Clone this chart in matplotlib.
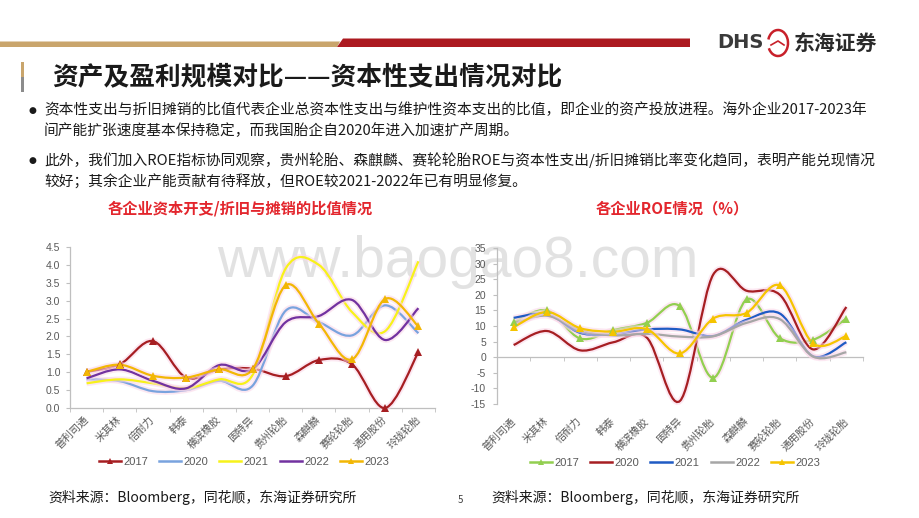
import numpy as np
import matplotlib
matplotlib.use("Agg")
import matplotlib.pyplot as plt
from matplotlib.path import Path
from matplotlib.patches import PathPatch, Polygon, Rectangle, Arc
from matplotlib.lines import Line2D
import matplotlib.patheffects as pe

plt.rcParams['font.family'] = ['Noto Sans CJK SC', 'DejaVu Sans']

# ---------------- data ----------------
categories = ['普利司通', '米其林', '倍耐力', '韩泰', '横滨橡胶', '固特异',
              '贵州轮胎', '森麒麟', '赛轮轮胎', '通用股份', '玲珑轮胎']
years = ['2017', '2020', '2021', '2022', '2023']

# capex / (depreciation + amortization)
capex_2017 = [1.01, 1.22, 1.87, 0.85, 1.08, 1.10, 0.89, 1.34, 1.22, 0.00, 1.56]
capex_2020 = [0.80, 0.75, 0.47, 0.50, 0.76, 0.62, 2.72, 2.40, 2.03, 2.87, 2.09]
capex_2021 = [0.69, 0.80, 0.69, 0.55, 0.80, 0.92, 3.90, 4.00, 2.68, 2.15, 4.10]
capex_2022 = [0.83, 1.08, 0.76, 0.55, 1.20, 1.08, 2.40, 2.57, 3.02, 1.90, 2.79]
capex_2023 = [1.01, 1.21, 0.90, 0.85, 1.08, 1.08, 3.43, 2.36, 1.36, 3.05, 2.28]

# ROE (%)
roe_2017 = [11.2, 15.0, 6.0, 8.7, 11.0, 16.3, -6.6, 18.5, 6.1, 5.6, 12.4]
roe_2020 = [3.9, 8.4, 2.2, 4.8, 6.3, -14.0, 26.5, 21.3, 20.0, 2.5, 16.1]
roe_2021 = [12.6, 13.8, 7.8, 7.4, 8.9, 8.9, 6.8, 12.0, 14.0, 0.3, 4.8]
roe_2022 = [10.8, 13.3, 8.6, 7.0, 7.5, 6.6, 6.7, 11.0, 12.2, 0.2, 1.6]
roe_2023 = [9.6, 14.5, 9.3, 8.2, 9.0, 1.2, 12.4, 14.2, 23.0, 4.4, 6.8]

capex_yticks = [0.0, 0.5, 1.0, 1.5, 2.0, 2.5, 3.0, 3.5, 4.0, 4.5]
roe_yticks = [-15, -10, -5, 0, 5, 10, 15, 20, 25, 30, 35]

left_series = [capex_2017, capex_2020, capex_2021, capex_2022, capex_2023]
left_colors = ['#a61e22', '#79a3de', '#f7f21a', '#7232a0', '#f2b705']
left_markers = ['^', None, None, None, '^']

right_series = [roe_2017, roe_2020, roe_2021, roe_2022, roe_2023]
right_colors = ['#92cf50', '#a61e22', '#1f5bc4', '#a6a6a6', '#f5c400']
right_markers = ['^', None, None, None, '^']

# ---------------- helpers ----------------
def smooth_path(xs, ys, k=1.0 / 6.0):
    n = len(xs)
    verts = [(xs[0], ys[0])]
    codes = [Path.MOVETO]
    for i in range(n - 1):
        p0 = (xs[i], ys[i])
        p1 = (xs[i + 1], ys[i + 1])
        pm = (xs[i - 1], ys[i - 1]) if i > 0 else p0
        pp = (xs[i + 2], ys[i + 2]) if i + 2 < n else p1
        c1 = (p0[0] + (p1[0] - pm[0]) * k, p0[1] + (p1[1] - pm[1]) * k)
        c2 = (p1[0] - (pp[0] - p0[0]) * k, p1[1] - (pp[1] - p0[1]) * k)
        verts += [c1, c2, p1]
        codes += [Path.CURVE4] * 3
    return Path(verts, codes)

glow = [pe.Stroke(linewidth=4.2, foreground='#fbd6e8', alpha=0.55), pe.Normal()]
TICKC = '#595959'
AXC = '#bfbfbf'
W, H = 920, 518

def draw_series(ax, series, colors, markers):
    x = np.arange(len(categories))
    for vals, col, mk in zip(series, colors, markers):
        patch = PathPatch(smooth_path(x, vals), fill=False, edgecolor=col,
                          lw=1.6, transform=ax.transData, clip_on=False,
                          path_effects=glow, zorder=3)
        ax.add_patch(patch)
        if mk:
            ax.plot(x, vals, linestyle='none', marker=mk, markersize=5.5,
                    color=col, markeredgewidth=0, zorder=4, clip_on=False)

def legend_handles(colors, markers):
    hs = []
    for col, mk in zip(colors, markers):
        hs.append(Line2D([], [], color=col, lw=1.8, marker=mk if mk else None,
                         markersize=5, markeredgewidth=0))
    return hs

# ---------------- figure ----------------
fig = plt.figure(figsize=(9.2, 5.18), dpi=100)
fig.patch.set_facecolor('white')

bg = fig.add_axes([0, 0, 1, 1], zorder=0)
bg.set_xlim(0, W)
bg.set_ylim(H, 0)
bg.axis('off')

# watermark
bg.text(458, 262, 'www.baogao8.com', fontsize=41, color='#d9d9d9', alpha=0.75,
        ha='center', va='center', family=['Liberation Sans', 'DejaVu Sans'], zorder=0)

# header bars
bg.add_patch(Polygon([(0, 41.5), (340, 41.5), (337, 47), (0, 47)], closed=True,
                     facecolor='#c9a56c', edgecolor='none'))
bg.add_patch(Polygon([(337, 47), (343, 38.5), (690, 38.5), (690, 47)], closed=True,
                     facecolor='#ac1a20', edgecolor='none'))
# logo
bg.text(717, 43, 'DHS', fontsize=14, fontweight='bold', color='#3a3a3a',
        ha='left', va='center', family=['DejaVu Sans'])
bg.add_patch(Arc((778, 43), 20, 26, theta1=200, theta2=150, color='#c8202a', lw=1.8))
bg.plot([771, 778, 784], [45, 41, 45], color='#c8202a', lw=1.2)
bg.text(794, 43, '东海证券', fontsize=15, fontweight='bold', color='#2a2a2a',
        ha='left', va='center')

# title bar + title
bg.add_patch(Rectangle((21, 62), 3, 15, facecolor='#c9a56c', edgecolor='none'))
bg.add_patch(Rectangle((21, 77), 3, 15, facecolor='#8c8c8c', edgecolor='none'))
bg.text(52, 77, '资产及盈利规模对比——资本性支出情况对比', fontsize=18.5,
        fontweight='bold', color='#1a1a1a', ha='left', va='center')

# bullet text
lines = [
    (110, True, '资本性支出与折旧摊销的比值代表企业总资本性支出与维护性资本支出的比值，即企业的资产投放进程。海外企业2017-2023年'),
    (131, False, '间产能扩张速度基本保持稳定，而我国胎企自2020年进入加速扩产周期。'),
    (160, True, '此外，我们加入ROE指标协同观察，贵州轮胎、森麒麟、赛轮轮胎ROE与资本性支出/折旧摊销比率变化趋同，表明产能兑现情况'),
    (182, False, '较好；其余企业产能贡献有待释放，但ROE较2021-2022年已有明显修复。'),
]
for yy, bullet, txt in lines:
    if bullet:
        bg.text(32, yy, '●', fontsize=6.5, color='#1a1a1a', ha='center', va='center',
                family=['DejaVu Sans'])
    bg.text(44, yy, txt, fontsize=10.6, color='#1a1a1a', ha='left', va='center')

# chart titles
bg.text(240, 208, '各企业资本开支/折旧与摊销的比值情况', fontsize=11, fontweight='bold',
        color='#e3262d', ha='center', va='center')
bg.text(672, 208, '各企业ROE情况（%）', fontsize=11, fontweight='bold',
        color='#e3262d', ha='center', va='center')

# footers
src = '资料来源：Bloomberg，同花顺，东海证券研究所'
bg.text(48, 497, src, fontsize=10, color='#1a1a1a', ha='left', va='center')
bg.text(491, 497, src, fontsize=10, color='#1a1a1a', ha='left', va='center')
bg.text(460, 500, '5', fontsize=7, color='#404040', ha='center', va='center')

x = np.arange(len(categories))

def fig_rect(l, r, t, b):
    return [l / W, 1 - b / H, (r - l) / W, (b - t) / H]

# ---------------- left chart ----------------
ax1 = fig.add_axes(fig_rect(70, 435, 247, 408), zorder=2)
ax1.set_facecolor('none')
ax1.set_xlim(-0.5, len(categories) - 0.5)
ax1.set_ylim(0, 4.5)
for s in ['top', 'right']:
    ax1.spines[s].set_visible(False)
for s in ['left', 'bottom']:
    ax1.spines[s].set_color(AXC)
    ax1.spines[s].set_linewidth(0.9)
ax1.set_yticks(capex_yticks)
ax1.set_yticklabels([f'{v:.1f}' for v in capex_yticks],
                    family=['Liberation Sans', 'DejaVu Sans'])
ax1.tick_params(axis='y', length=3, color=AXC, labelcolor=TICKC, labelsize=7.5, pad=4)
ax1.set_xticks(x)
ax1.set_xticklabels(categories, rotation=45, ha='right', va='center',
                    rotation_mode='anchor')
ax1.tick_params(axis='x', which='major', length=0, labelcolor=TICKC, labelsize=7.5, pad=7)
ax1.set_xticks(np.arange(-0.5, len(categories), 1.0), minor=True)
ax1.tick_params(axis='x', which='minor', length=3, color=AXC)
draw_series(ax1, left_series, left_colors, left_markers)
leg1 = ax1.legend(legend_handles(left_colors, left_markers), years, loc='center',
                  bbox_to_anchor=(244 / W, 1 - 462 / H), bbox_transform=fig.transFigure,
                  ncol=5, frameon=False, fontsize=8, handlelength=2.0,
                  handletextpad=0.2, columnspacing=1.0,
                  prop={'family': ['Liberation Sans', 'DejaVu Sans'], 'size': 8})
for t in leg1.get_texts():
    t.set_color(TICKC)

# ---------------- right chart ----------------
ax2 = fig.add_axes(fig_rect(497, 863, 248, 404), zorder=2)
ax2.set_facecolor('none')
ax2.set_xlim(-0.5, len(categories) - 0.5)
ax2.set_ylim(-15, 35)
for s in ['top', 'right']:
    ax2.spines[s].set_visible(False)
for s in ['left', 'bottom']:
    ax2.spines[s].set_color(AXC)
    ax2.spines[s].set_linewidth(0.9)
ax2.spines['bottom'].set_position(('data', 0))
ax2.set_yticks(roe_yticks)
ax2.set_yticklabels([str(v) for v in roe_yticks],
                    family=['Liberation Sans', 'DejaVu Sans'])
ax2.tick_params(axis='y', length=3, color=AXC, labelcolor=TICKC, labelsize=7.5, pad=5)
ax2.set_xticks(x)
ax2.set_xticklabels([])
ax2.tick_params(axis='x', which='major', length=0)
ax2.set_xticks(np.arange(-0.5, len(categories), 1.0), minor=True)
ax2.tick_params(axis='x', which='minor', length=3, color=AXC)
sec = ax2.secondary_xaxis(0.0)
sec.set_xticks(x)
sec.set_xticklabels(categories, rotation=45, ha='right', va='center',
                    rotation_mode='anchor')
sec.tick_params(axis='x', length=0, labelcolor=TICKC, labelsize=7.5, pad=11)
sec.spines['bottom'].set_visible(False)
draw_series(ax2, right_series, right_colors, right_markers)
leg2 = ax2.legend(legend_handles(right_colors, right_markers), years, loc='center',
                  bbox_to_anchor=(675 / W, 1 - 463 / H), bbox_transform=fig.transFigure,
                  ncol=5, frameon=False, handlelength=2.0,
                  handletextpad=0.2, columnspacing=1.0,
                  prop={'family': ['Liberation Sans', 'DejaVu Sans'], 'size': 8})
for t in leg2.get_texts():
    t.set_color(TICKC)

fig.savefig('out.png', dpi=100)
